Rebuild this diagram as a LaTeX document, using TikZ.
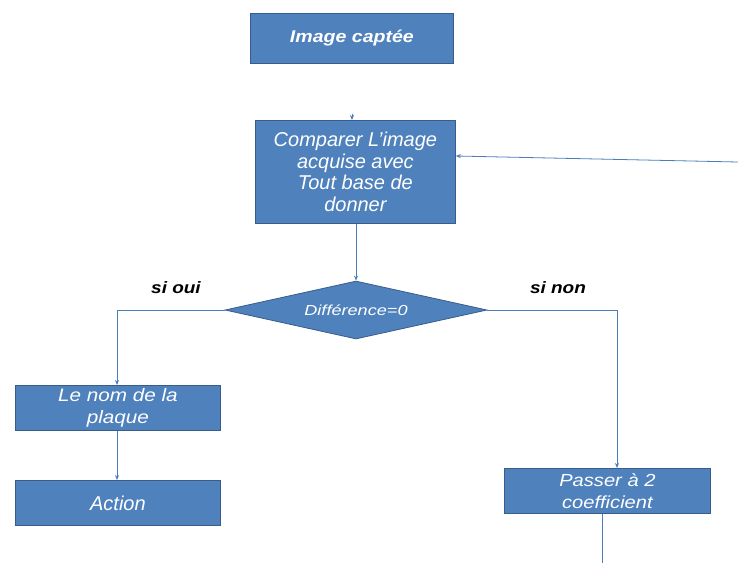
\documentclass[tikz,border=0pt]{standalone}
\usepackage{fontspec}
\setmainfont{Liberation Sans}
\newfontfamily\wideA[FakeStretch=1.15]{Liberation Sans}
\newfontfamily\wideB[FakeStretch=1.25]{Liberation Sans}
\usetikzlibrary{shapes.geometric,arrows.meta}
\definecolor{boxfill}{HTML}{4F81BD}
\definecolor{boxline}{HTML}{385D8A}
\definecolor{linkcol}{HTML}{4A7EBB}
\tikzset{
  flowbox/.style={draw=boxline, line width=0.8pt, fill=boxfill, text=white, align=center, inner sep=0pt, anchor=north west},
  decision/.style={diamond, draw=boxline, line width=0.8pt, fill=boxfill, text=white, inner sep=0pt, aspect=4.4},
  link/.style={draw=linkcol, line width=0.8pt, -{Stealth[length=5pt,width=4pt]}},
  plainlink/.style={draw=linkcol, line width=0.8pt},
  lbl/.style={font=\wideA\bfseries\itshape\fontsize{16.5}{18}\selectfont, text=black}
}
\begin{document}
\begin{tikzpicture}[x=1pt,y=-1pt]
\useasboundingbox (0,0) rectangle (738,563);
\node[flowbox, minimum width=203pt, minimum height=50pt, font=\wideA\bfseries\itshape\fontsize{17}{19}\selectfont] (img) at (250,13) {Image captée};
\node[flowbox, minimum width=200pt, minimum height=103pt, font=\itshape\fontsize{20}{21.7}\selectfont] (cmp) at (255,120) {Comparer L'image\\acquise avec\\Tout base de\\donner};
\node[decision, minimum width=262pt, minimum height=58pt, font=\wideB\itshape\fontsize{14.5}{16}\selectfont] (dif) at (356,310) {Différence=0};
\node[flowbox, minimum width=205pt, minimum height=45pt, font=\wideA\itshape\fontsize{18}{22}\selectfont] (nom) at (15,385) {Le nom de la\\plaque};
\node[flowbox, minimum width=205pt, minimum height=45pt, font=\itshape\fontsize{20}{22}\selectfont] (act) at (15,480) {Action};
\node[flowbox, minimum width=206pt, minimum height=45pt, font=\wideA\itshape\fontsize{17.5}{22}\selectfont] (pas) at (504,468) {Passer à 2\\coefficient};
\node[lbl] (oui) at (176,288) {si oui};
\node[lbl] (non) at (558,288) {si non};
\coordinate (tiptop) at (352,114);
\coordinate (rightend) at (738,162);
\coordinate (bottomend) at (602,563);
\path[link] (tiptop) -- (cmp.north -| tiptop);
\path[link] (rightend) -- (cmp.east |- 0,156);
\path[link] (cmp.south -| dif.north) -- (dif.north);
\path[link] (dif.west) -| (nom.north -| 117,0);
\path[link] (dif.east) -| (pas.north -| 617,0);
\path[link] (nom.south -| 117,0) -- (act.north -| 117,0);
\path[plainlink] (pas.south -| bottomend) -- (bottomend);
\end{tikzpicture}
\end{document}
